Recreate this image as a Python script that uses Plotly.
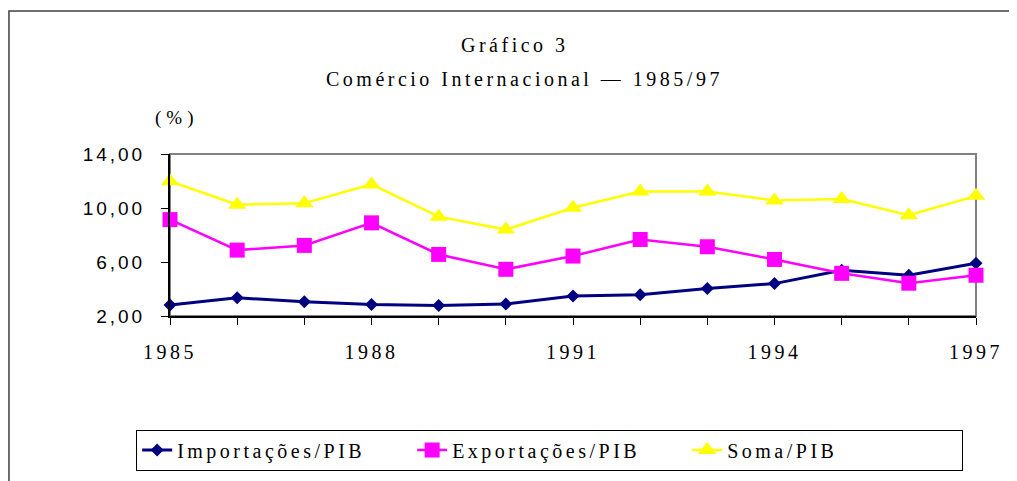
import plotly.graph_objects as go

years = list(range(1985, 1998))
importacoes = [2.81, 3.35, 3.05, 2.86, 2.78, 2.88, 3.49, 3.57, 4.04, 4.40, 5.38, 5.02, 5.90]
exportacoes = [9.14, 6.88, 7.23, 8.90, 6.56, 5.46, 6.44, 7.67, 7.13, 6.19, 5.16, 4.43, 5.02]
soma = [11.98, 10.24, 10.36, 11.75, 9.36, 8.40, 10.02, 11.22, 11.22, 10.56, 10.66, 9.46, 10.90]

x_labels = ["1985", "", "", "1988", "", "", "1991", "", "", "1994", "", "", "1997"]
y_vals = [2, 6, 10, 14]
y_labels = ["2,00", "6,00", "10,00", "14,00"]

series_names = ["Importações/PIB", "Exportações/PIB", "Soma/PIB"]
title1 = "Gráfico 3"
title2 = "Comércio Internacional — 1985/97"
unit_label = "(%)"

LS = "letter-spacing:3.5px"
def sp(t, ls=LS):
    return f'<span style="{ls}">{t}</span>'

serif = "Liberation Serif, Times New Roman, serif"
sans = "Liberation Sans, Arial, sans-serif"

fig = go.Figure()
styles = [
    dict(color="#000080", symbol="diamond", size=10, lw=3),
    dict(color="#FF00FF", symbol="square", size=15, lw=2.5),
    dict(color="#FFFF00", symbol="triangle-up", size=16, lw=2.5),
]
for name, vals, st in zip(series_names, [importacoes, exportacoes, soma], styles):
    fig.add_trace(go.Scatter(
        x=years, y=vals, name=sp(name), mode="lines+markers",
        line=dict(color=st["color"], width=st["lw"]),
        marker=dict(symbol=st["symbol"], size=st["size"], color=st["color"]),
        cliponaxis=False,
    ))

# figure sits at an 8px page offset
W, H = 1009, 473
L, T = 162, 146
R = W - 968
B = H - 309

fig.update_layout(
    width=W, height=H,
    margin=dict(l=L, r=R, t=T, b=B),
    paper_bgcolor="white", plot_bgcolor="white",
    showlegend=True,
    legend=dict(
        orientation="h", x=-0.042, xanchor="left", y=-0.816, yanchor="middle",
        bordercolor="#000000", borderwidth=1, bgcolor="white",
        font=dict(family=serif, size=20, color="black"),
        entrywidth=230, tracegroupgap=0,
    ),
    xaxis=dict(
        range=[1985, 1997], tickvals=years, ticktext=[sp(t) if t else "" for t in x_labels],
        showgrid=False, zeroline=False, showline=True, linecolor="black", linewidth=2,
        ticks="outside", ticklen=7, tickwidth=1, tickcolor="black",
        tickfont=dict(family=serif, size=20, color="black"), ticklabelstandoff=10,
    ),
    yaxis=dict(
        range=[2, 14], tickvals=y_vals, ticktext=[sp(t, "letter-spacing:3px") for t in y_labels],
        showgrid=False, zeroline=False, showline=True, linecolor="black", linewidth=2,
        ticks="outside", ticklen=7, tickwidth=1, tickcolor="black",
        tickfont=dict(family=sans, size=19, color="black"), ticklabelstandoff=12,
    ),
    xaxis2=dict(
        overlaying="x", anchor="y", side="bottom", matches="x", range=[1985, 1997],
        tickvals=years, showticklabels=False, ticks="inside", ticklen=6, tickwidth=1,
        tickcolor="black", showgrid=False, zeroline=False, showline=False,
    ),
    yaxis2=dict(
        overlaying="y", anchor="x", side="left", matches="y", range=[2, 14],
        tickvals=y_vals, showticklabels=False, ticks="inside", ticklen=8, tickwidth=1,
        tickcolor="black", showgrid=False, zeroline=False, showline=False,
    ),
    shapes=[
        dict(type="rect", xref="paper", yref="paper", x0=0, x1=1, y0=0, y1=1,
             line=dict(color="#808080", width=2), layer="below"),
        dict(type="rect", xref="paper", yref="paper", x0=-0.1998, x1=1.5, y0=-1.6, y1=1.883,
             line=dict(color="#404040", width=1.5), layer="below"),
    ],
    annotations=[
        dict(text=sp(title1), xref="paper", yref="paper", x=0.428, y=1.675,
             xanchor="center", yanchor="middle", showarrow=False,
             font=dict(family=serif, size=20, color="black")),
        dict(text=sp(title2), xref="paper", yref="paper", x=0.44, y=1.46,
             xanchor="center", yanchor="middle", showarrow=False,
             font=dict(family=serif, size=20, color="black")),
        dict(text=sp(unit_label, "letter-spacing:5px"), xref="paper", yref="paper", x=0.008, y=1.221,
             xanchor="center", yanchor="middle", showarrow=False,
             font=dict(family=serif, size=19, color="black")),
    ],
)

fig.write_html("out.html")
